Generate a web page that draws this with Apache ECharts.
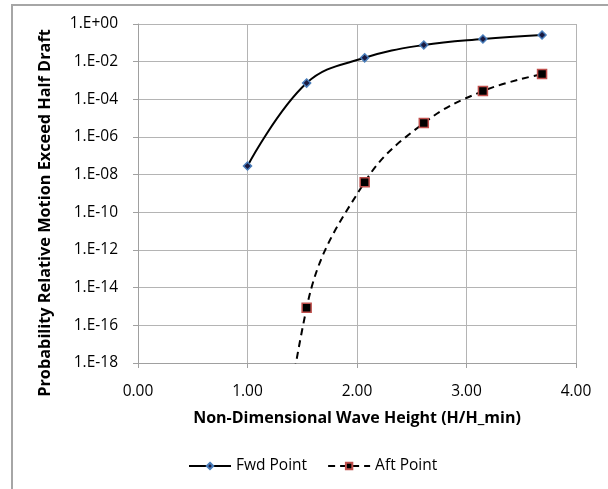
<!DOCTYPE html>
<html><head><meta charset="utf-8">
<script src="https://cdn.jsdelivr.net/npm/echarts@6/dist/echarts.min.js"></script>
<style>html,body{margin:0;padding:0;background:#fff}#c{width:608px;height:489px}</style>
</head><body><div id="c"></div>
<script>
const waveHeight = [1.00, 1.54, 2.07, 2.61, 3.15, 3.69];
const fwdPoint = [2.9e-8, 7.3e-4, 1.6e-2, 7.7e-2, 0.16, 0.26];
const aftX = [1.00, 1.54, 2.07, 2.61, 3.15, 3.69];
const aftPoint = [1e-38, 8.5e-16, 4.0e-9, 5.5e-6, 2.75e-4, 2.2e-3];
const xTicks = [0, 1, 2, 3, 4];
const yTickExponents = [0, -2, -4, -6, -8, -10, -12, -14, -16, -18];
const yTitle = 'Probability Relative Motion Exceed Half Draft';

const font = '"Open Sans", "Noto Sans", sans-serif';
const chart = echarts.init(document.getElementById('c'), null, {renderer: 'canvas'});
function fmtY(v) {
  const e = Math.round(Math.log10(v));
  return '1.E' + (e >= 0 ? '+' : '-') + String(Math.abs(e)).padStart(2, '0');
}
chart.setOption({
  animation: false,
  backgroundColor: '#fff',
  graphic: [{
    type: 'rect', shape: {x: 12, y: 5, width: 700, height: 600},
    style: {fill: 'none', stroke: '#a6a6a6', lineWidth: 2}, silent: true
  }, {
    type: 'text', x: 45, y: 213, rotation: Math.PI / 2, silent: true,
    style: {text: yTitle, font: 'bold 16.3px ' + font, fill: '#000', align: 'center', verticalAlign: 'middle'}
  }],
  grid: {left: 138, right: 32, top: 24, bottom: 126, containLabel: false},
  legend: {
    bottom: 10, left: 183, itemWidth: 42, itemHeight: 8, itemGap: 20,
    textStyle: {fontFamily: font, fontSize: 15.5, color: '#000'},
    data: ['Fwd Point', 'Aft Point']
  },
  xAxis: {
    type: 'value', min: xTicks[0], max: xTicks[xTicks.length - 1], interval: 1,
    name: 'Non-Dimensional Wave Height (H/H_min)', nameLocation: 'middle', nameGap: 47,
    nameTextStyle: {fontFamily: font, fontSize: 16, fontWeight: 'bold', color: '#000'},
    axisLine: {show: true, onZero: false, lineStyle: {color: '#a0a0a0', width: 1}},
    axisTick: {show: true, length: 5, lineStyle: {color: '#a0a0a0'}},
    axisLabel: {fontFamily: font, fontSize: 15.5, color: '#000', margin: 21, formatter: v => v.toFixed(2)},
    splitLine: {show: true, lineStyle: {color: '#b4b4b4', width: 1}}
  },
  yAxis: {
    type: 'log', logBase: 10, min: Math.pow(10, yTickExponents[yTickExponents.length - 1]), max: Math.pow(10, yTickExponents[0]), interval: 2,
    axisLine: {show: true, lineStyle: {color: '#a0a0a0', width: 1}},
    axisTick: {show: true, length: 5, lineStyle: {color: '#a0a0a0'}},
    axisLabel: {fontFamily: font, fontSize: 15.5, color: '#000', margin: 20, formatter: fmtY},
    splitLine: {show: true, lineStyle: {color: '#b4b4b4', width: 1}},
    minorTick: {show: false}
  },
  series: [{
    name: 'Fwd Point', type: 'line', smooth: 0.4,
    data: waveHeight.map((x, i) => [x, fwdPoint[i]]),
    symbol: 'diamond', symbolSize: 8,
    lineStyle: {color: '#000', width: 2},
    itemStyle: {color: '#1a1a40', borderColor: '#4a7ebb', borderWidth: 1.5},
    z: 3
  }, {
    name: 'Aft Point', type: 'line', smooth: 0.4, clip: true,
    data: aftX.map((x, i) => [x, aftPoint[i]]),
    symbol: 'rect', symbolSize: 9,
    lineStyle: {color: '#000', width: 2, type: [7, 5]},
    itemStyle: {color: '#000', borderColor: '#c0504d', borderWidth: 1.5},
    z: 2
  }]
});
</script></body></html>
